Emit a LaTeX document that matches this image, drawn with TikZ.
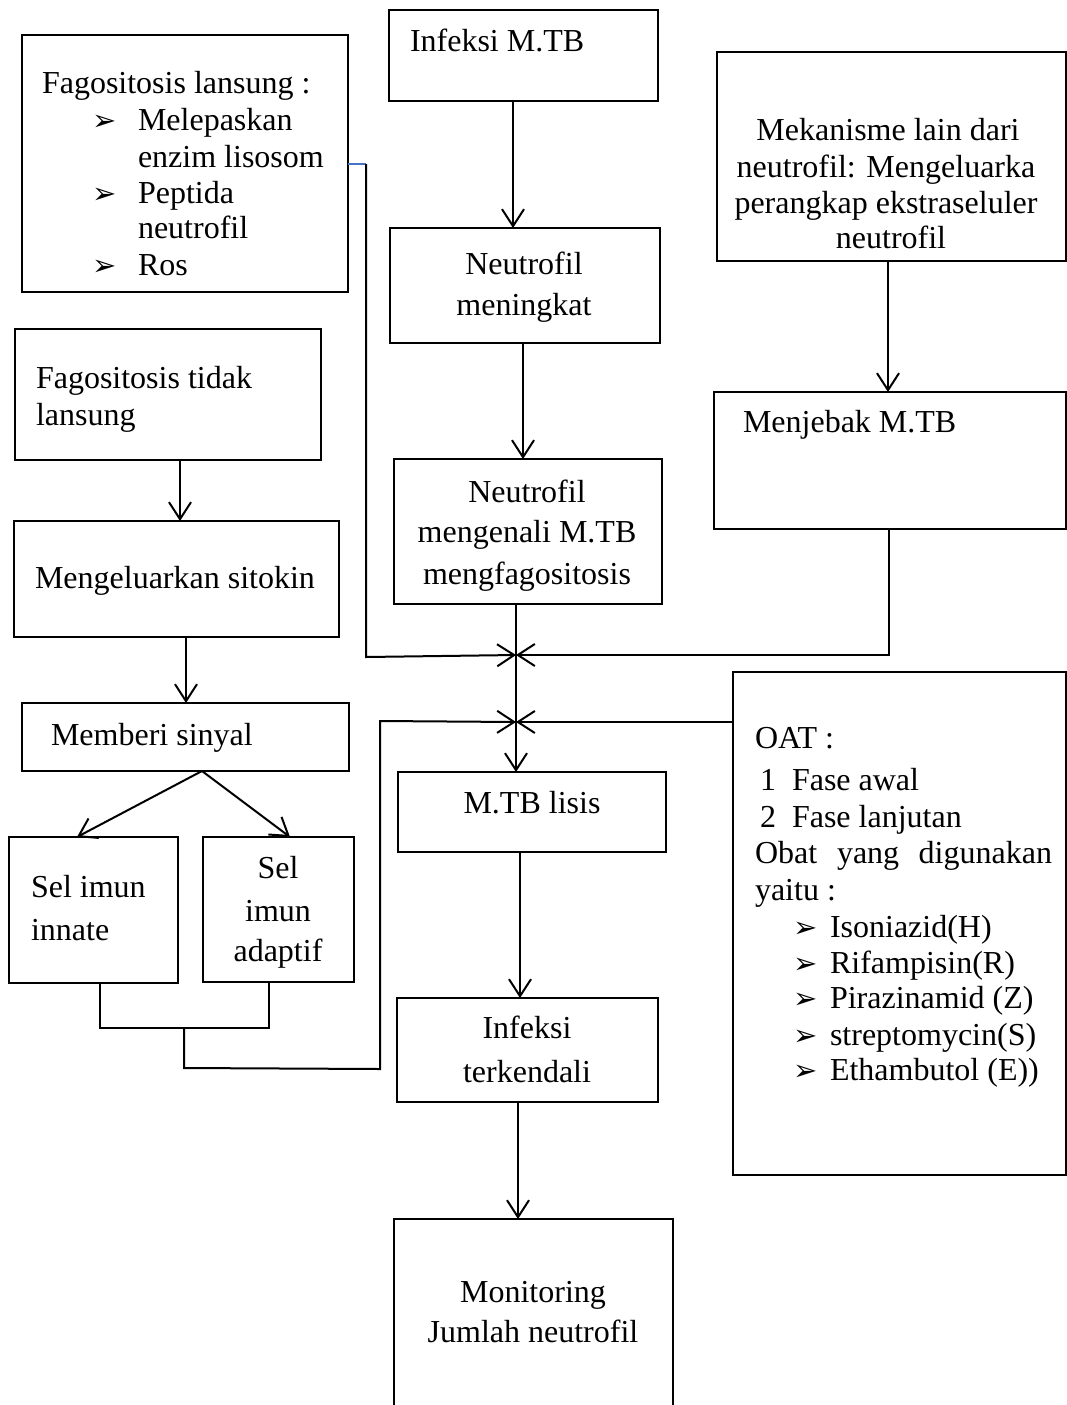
\documentclass[tikz,border=0pt]{standalone}
\usepackage{fontspec}
\setmainfont{Liberation Serif}
\newfontfamily\symfont{DejaVu Sans}
\usetikzlibrary{arrows.meta,calc}
\definecolor{wordblue}{RGB}{68,114,196}
\tikzset{
 boxst/.style={draw, line width=2.2pt, inner sep=0pt, outer sep=0pt},
 txt/.style={inner sep=0pt, outer sep=0pt, font=\fontsize{32}{37}\selectfont},
 bulst/.style={inner sep=0pt, outer sep=0pt, anchor=base west, font=\symfont\fontsize{29}{29}\selectfont},
 conn/.style={line width=2pt},
 arr/.style={conn, -{Straight Barb[length=17pt,width=22pt]}},
 blueln/.style={line width=1.8pt, draw=wordblue},
}
\newcommand\bx[5]{\node[boxst, minimum width={#4-#2}, minimum height={#5-#3}, anchor=north west] (#1) at (#2,#3) {};}
\newcommand\tx[5][base west]{\node[txt, anchor=#1] (#2) at (#3,#4) {#5};}
\newcommand\bul[3]{\node[bulst] (#1) at (#2,#3) {➢};}
\begin{document}
\begin{tikzpicture}[x=1pt,y=-1pt]
\useasboundingbox (0,0) rectangle (1067,1405);
% boxes
\bx{fl}{22}{35}{348}{292}
\bx{infeksi}{389}{10}{658}{101}
\bx{mek}{717}{52}{1066}{261}
\bx{nmen}{390}{228}{660}{343}
\bx{ftl}{15}{329}{321}{460}
\bx{jebak}{714}{392}{1066}{529}
\bx{nkenal}{394}{459}{662}{604}
\bx{sitokin}{14}{521}{339}{637}
\bx{oat}{733}{672}{1066}{1175}
\bx{sinyal}{22}{703}{349}{771}
\bx{lisis}{398}{772}{666}{852}
\bx{innate}{9}{837}{178}{983}
\bx{adaptif}{203}{837}{354}{982}
\bx{terk}{397}{998}{658}{1102}
\bx{mon}{394}{1219}{673}{1412}
% texts
\tx{fla}{42}{93}{Fagositosis lansung :}
\bul{flb1}{92}{130}
\tx{flb}{138}{130}{Melepaskan}
\tx{flc}{138}{167}{enzim lisosom}
\bul{flb2}{92}{203}
\tx{fld}{138}{203}{Peptida}
\tx{fle}{138}{238}{neutrofil}
\bul{flb3}{92}{275}
\tx{flf}{138}{275}{Ros}
\tx{inft}{410}{52}{Infeksi M.TB}
\tx[base]{meka}{888}{140}{Mekanisme lain dari}
\tx[base]{mekb}{886}{177}{neutrofil: Mengeluarka}
\tx[base]{mekc}{886}{213}{perangkap ekstraseluler}
\tx[base]{mekd}{891}{248}{neutrofil}
\tx[base]{nmena}{524}{274}{Neutrofil}
\tx[base]{nmenb}{524}{315}{meningkat}
\tx{ftla}{36}{388}{Fagositosis tidak}
\tx{ftlb}{36}{425}{lansung}
\tx{jebt}{743}{432}{Menjebak M.TB}
\tx[base]{nka}{527}{502}{Neutrofil}
\tx[base]{nkb}{527}{542}{mengenali M.TB}
\tx[base]{nkc}{527}{584}{mengfagositosis}
\tx{sitt}{35}{588}{Mengeluarkan sitokin}
\tx{sint}{51}{745}{Memberi sinyal}
\tx[base]{list}{532}{813}{M.TB lisis}
\tx{inna}{31}{897}{Sel imun}
\tx{innb}{31}{940}{innate}
\tx[base]{ada}{278}{878}{Sel}
\tx[base]{adb}{278}{921}{imun}
\tx[base]{adc}{278}{961}{adaptif}
\tx[base]{terka}{527}{1038}{Infeksi}
\tx[base]{terkb}{527}{1082}{terkendali}
\tx[base]{mona}{533}{1302}{Monitoring}
\tx[base]{monb}{533}{1342}{Jumlah neutrofil}
% OAT
\tx{oa}{755}{748}{OAT :}
\tx{ob1}{760}{790}{1}
\tx{ob}{792}{790}{Fase awal}
\tx{oc1}{760}{827}{2}
\tx{oc}{792}{827}{Fase lanjutan}
\tx{od1}{755}{863}{Obat}
\tx{od2}{837}{863}{yang}
\tx[base east]{od3}{1052}{863}{digunakan}
\tx{oe}{755}{900}{yaitu :}
\bul{obu1}{793}{937}
\tx{of}{830}{937}{Isoniazid(H)}
\bul{obu2}{793}{973}
\tx{og}{830}{973}{Rifampisin(R)}
\bul{obu3}{793}{1008}
\tx{oh}{830}{1008}{Pirazinamid (Z)}
\bul{obu4}{793}{1045}
\tx{oi}{830}{1045}{streptomycin(S)}
\bul{obu5}{793}{1080}
\tx{oj}{830}{1080}{Ethambutol (E))}
% column coordinates
\foreach \c in {77,100,180,186,202,269,290,513,516,518,520,523,888,889}{\coordinate (k\c) at (\c,0);}
% connectors
\draw[arr] (k513 |- infeksi.south) -- (k513 |- nmen.north);
\draw[arr] (k523 |- nmen.south) -- (k523 |- nkenal.north);
\draw[arr] (k888 |- mek.south) -- (k888 |- jebak.north);
\draw[arr] (k180 |- ftl.south) -- (k180 |- sitokin.north);
\draw[arr] (k186 |- sitokin.south) -- (k186 |- sinyal.north);
\draw[arr] (k202 |- sinyal.south) -- (k77 |- innate.north);
\draw[arr] (k202 |- sinyal.south) -- (k290 |- adaptif.north);
\draw[arr] (k516 |- nkenal.south) -- (k516 |- lisis.north);
\coordinate (b1) at (366,164);
\coordinate (b2) at (366,657);
\coordinate (j1) at (516,655);
\coordinate (r1) at (889,655);
\coordinate (j2) at (516,722);
\draw[blueln] (fl.east |- b1) -- (b1);
\draw[arr] (b1) -- (b2) -- (j1);
\draw[arr] (k889 |- jebak.south) -- (r1) -- (j1);
\draw[arr] (oat.west |- j2) -- (j2);
\coordinate (q1) at (100,1028);
\coordinate (q2) at (269,1028);
\coordinate (q3) at (184,1028);
\coordinate (q4) at (184,1068);
\coordinate (q5) at (380,1069);
\coordinate (q6) at (380,721);
\draw[conn] (k100 |- innate.south) -- (q1) -- (q2) -- (k269 |- adaptif.south);
\draw[arr] (q3) -- (q4) -- (q5) -- (q6) -- (j2);
\draw[arr] (k520 |- lisis.south) -- (k520 |- terk.north);
\draw[arr] (k518 |- terk.south) -- (k518 |- mon.north);
\end{tikzpicture}
\end{document}
